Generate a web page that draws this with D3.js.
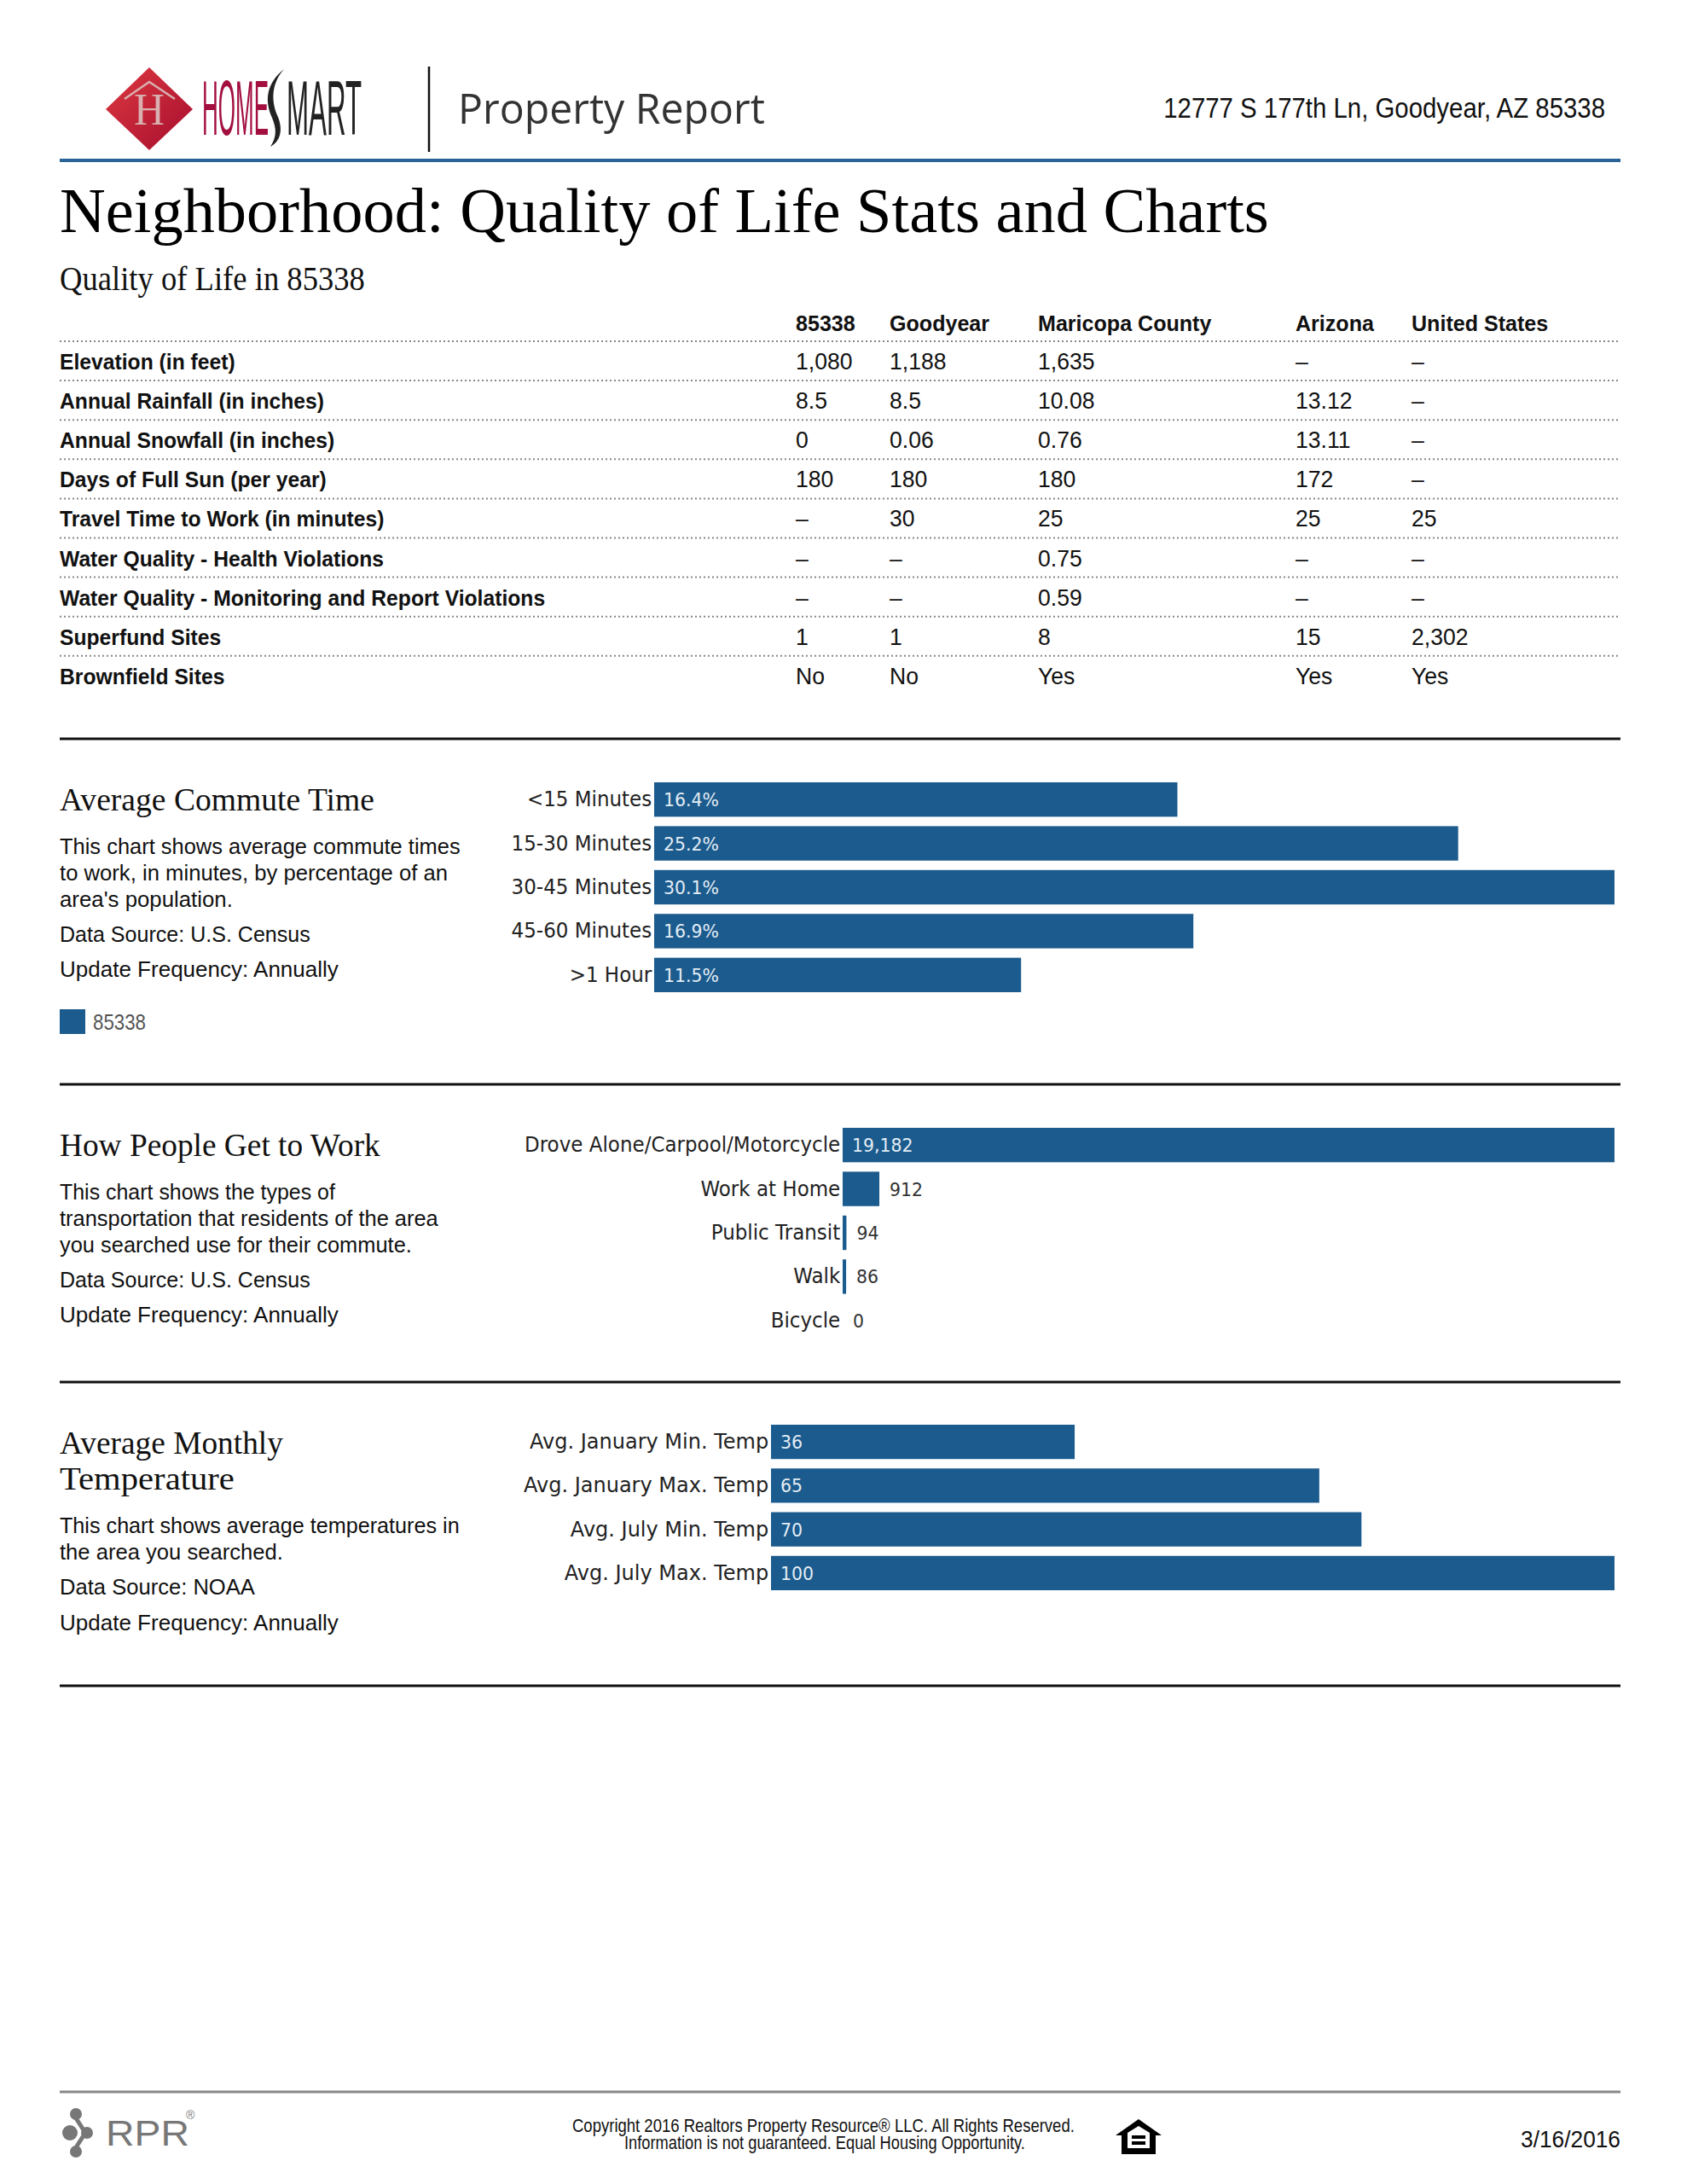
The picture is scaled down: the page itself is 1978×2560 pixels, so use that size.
<!DOCTYPE html>
<html><head><meta charset="utf-8">
<script src="https://cdnjs.cloudflare.com/ajax/libs/d3/7.8.5/d3.min.js"></script>
<style>html,body{margin:0;padding:0;background:#fff}svg{display:block}</style></head>
<body><svg id="c" width="1978" height="2560"></svg>
<script>
const tableColumns = ["85338","Goodyear","Maricopa County","Arizona","United States"];
const tableRowLabels = ["Elevation (in feet)","Annual Rainfall (in inches)","Annual Snowfall (in inches)","Days of Full Sun (per year)","Travel Time to Work (in minutes)","Water Quality - Health Violations","Water Quality - Monitoring and Report Violations","Superfund Sites","Brownfield Sites"];
const col85338 = ["1,080","8.5","0","180","–","–","–","1","No"];
const colGoodyear = ["1,188","8.5","0.06","180","30","–","–","1","No"];
const colMaricopa = ["1,635","10.08","0.76","180","25","0.75","0.59","8","Yes"];
const colArizona = ["–","13.12","13.11","172","25","–","–","15","Yes"];
const colUS = ["–","–","–","–","25","–","–","2,302","Yes"];

const commuteCats = ["<15 Minutes","15-30 Minutes","30-45 Minutes","45-60 Minutes",">1 Hour"];
const commuteVals = [16.4,25.2,30.1,16.9,11.5];
const workCats = ["Drove Alone/Carpool/Motorcycle","Work at Home","Public Transit","Walk","Bicycle"];
const workVals = [19182,912,94,86,0];
const tempCats = ["Avg. January Min. Temp","Avg. January Max. Temp","Avg. July Min. Temp","Avg. July Max. Temp"];
const tempVals = [36,65,70,100];

const BLUE = "#1b5b8e";
const SANS = "'Liberation Sans',Arial,sans-serif", SERIF = "'Liberation Serif',serif", TAHOMA = "'DejaVu Sans',sans-serif";
const svg = d3.select("#c");

function txt(x,y,s,o={}){
  const t = svg.append("text").text(s)
    .attr("font-family",o.family||SANS).attr("font-size",o.size||26)
    .attr("font-weight",o.weight||"normal").attr("fill",o.fill||"#111")
    .attr("text-anchor",o.anchor||"start");
  const w = t.node().getComputedTextLength();
  const k = o.width ? o.width/w : (o.sx||1);
  t.attr("transform",`translate(${x},${y}) scale(${k},1)`);
  return t;
}
function line(x1,x2,y,stroke,sw,dash){
  const l = svg.append("line").attr("x1",x1).attr("x2",x2).attr("y1",y).attr("y2",y).attr("stroke",stroke).attr("stroke-width",sw);
  if(dash) l.attr("stroke-dasharray",dash);
}

/* ---- header ---- */
const defs = svg.append("defs");
const g = defs.append("linearGradient").attr("id","red").attr("x1","0").attr("y1","0").attr("x2","1").attr("y2","1");
g.append("stop").attr("offset","0").attr("stop-color","#dd3a40");
g.append("stop").attr("offset","1").attr("stop-color","#a60c2e");
svg.append("path").attr("d","M175,79L226,128L175,176L124,128Z").attr("fill","url(#red)");
svg.append("path").attr("d","M146,116L175,96L205,116").attr("fill","none").attr("stroke","#d9b0b0").attr("stroke-width",2.5);
txt(175,146,"H",{family:SERIF,size:52,fill:"#d9b0b0",anchor:"middle",width:36});
txt(237,158,"HOME",{size:90,fill:"#a30f3f",width:78});
svg.append("path").attr("d","M333,81C318,98 318,118 325,135C332,150 330,165 317,172C325,160 324,150 319,138C310,118 312,98 333,81Z").attr("fill","#222");
txt(336,158,"MART",{size:90,fill:"#222",width:88});
svg.append("line").attr("x1",503).attr("x2",503).attr("y1",78).attr("y2",178).attr("stroke","#111").attr("stroke-width",2.5);
txt(537,145,"Property Report",{family:"'Open Sans',sans-serif",size:50,fill:"#333",width:360});
txt(1882,138,"12777 S 177th Ln, Goodyear, AZ 85338",{size:33,anchor:"end",width:518});
line(70,1900,188,"#2a6496",4);
txt(70,272,"Neighborhood: Quality of Life Stats and Charts",{family:SERIF,size:74,fill:"#000",width:1418});
txt(70,340,"Quality of Life in 85338",{family:SERIF,size:39,fill:"#111",width:358});

/* ---- table ---- */
const colX = d3.scaleOrdinal().domain(tableColumns).range([933,1043,1217,1519,1655]);
const rowY = d3.scaleBand().domain(tableRowLabels).range([400,400+46.1*9]);
tableColumns.forEach(c=>txt(colX(c),388,c,{size:26,weight:"bold",sx:.965}));
line(70,1900,400,"#888",2,"2,3");
[col85338,colGoodyear,colMaricopa,colArizona,colUS].forEach((vals,i)=>{
  vals.forEach((v,j)=>txt(colX(tableColumns[i]),rowY(tableRowLabels[j])+33,v,{size:28,sx:.95}));
});
tableRowLabels.forEach((r,j)=>{
  txt(70,rowY(r)+33,r,{size:26,weight:"bold",sx:.95});
  if(j<8) line(70,1900,rowY(r)+46.1,"#888",2,"2,3");
});

/* ---- sections ---- */
[866,1271,1620,1976].forEach(y=>line(70,1900,y,"#111",3));
function section(top,head,headW,lines){
  head.forEach((h,i)=>txt(70,top+84+i*42,h,{family:SERIF,size:37,fill:"#111",width:headW[i]}));
  lines.forEach(l=>txt(70,top+l[0],l[1],{size:26,width:l[2]}));
}
section(866,["Average Commute Time"],[369],[
  [135,"This chart shows average commute times",470],
  [166,"to work, in minutes, by percentage of an",455],
  [197,"area's population.",203],
  [238,"Data Source: U.S. Census",294],
  [279,"Update Frequency: Annually",327]]);
section(1271,["How People Get to Work"],[376],[
  [135,"This chart shows the types of",323],
  [166,"transportation that residents of the area",444],
  [197,"you searched use for their commute.",413],
  [238,"Data Source: U.S. Census",294],
  [279,"Update Frequency: Annually",327]]);
section(1620,["Average Monthly","Temperature"],[262,205],[
  [177,"This chart shows average temperatures in",469],
  [208,"the area you searched.",262],
  [249,"Data Source: NOAA",229],
  [291,"Update Frequency: Annually",327]]);
svg.append("rect").attr("x",70).attr("y",1183).attr("width",30).attr("height",29).attr("fill",BLUE);
txt(109,1207,"85338",{size:26,fill:"#555",width:62});

/* ---- bar charts ---- */
function bars(cats,vals,x0,y0,y1,fmt,labelK){
  const x = d3.scaleLinear().domain([0,d3.max(vals)]).range([x0,1893]);
  const y = d3.scaleBand().domain(cats).range([y0,y1]).paddingInner(.215).paddingOuter(0);
  const G = svg.append("g");
  G.selectAll("rect").data(vals).join("rect")
    .attr("x",x0).attr("y",(d,i)=>y(cats[i])).attr("width",d=>x(d)-x0).attr("height",y.bandwidth()).attr("fill",BLUE);
  const ax = svg.append("g").attr("transform",`translate(${x0},0)`).call(d3.axisLeft(y).tickSize(0).tickPadding(3));
  ax.select(".domain").remove();
  ax.selectAll("text").attr("font-family",TAHOMA).attr("font-size",25).attr("fill","#222")
    .attr("transform",`scale(${labelK},1)`);
  vals.forEach((v,i)=>{
    const s = fmt(v), inside = x(v)-x0 > 100;
    txt(inside ? x0+11 : x(v)+12, y(cats[i])+y.bandwidth()/2+8, s,
      {family:TAHOMA,size:22,fill:inside?"#e4edf4":"#333",sx:.93});
  });
}
bars(commuteCats,commuteVals,767,917,1163,d=>d.toFixed(1)+"%",.92);
bars(workCats,workVals,988,1322,1568,d3.format(","),.92);
bars(tempCats,tempVals,904,1670,1864,d=>String(d),.96);

/* ---- footer ---- */
line(70,1900,2452,"#888",3);
svg.append("g").attr("fill","#777").selectAll("circle").data([[89,2478,7],[82,2500,9],[102,2500,7],[89,2522,7]])
  .join("circle").attr("cx",d=>d[0]).attr("cy",d=>d[1]).attr("r",d=>d[2]);
svg.append("path").attr("d","M86,2478L100,2500L86,2522").attr("fill","none").attr("stroke","#777").attr("stroke-width",5);
txt(124,2515,"RPR",{size:42,fill:"#777",width:98});
txt(218,2484,"®",{size:14,fill:"#777"});
txt(671,2499,"Copyright 2016 Realtors Property Resource® LLC. All Rights Reserved.",{size:22,width:589});
txt(732,2519,"Information is not guaranteed. Equal Housing Opportunity.",{size:22,width:470});
svg.append("path").attr("d","M1335,2484L1362,2503L1355,2503L1355,2525L1315,2525L1315,2503L1308,2503Z M1322,2500L1322,2518L1348,2518L1348,2500L1335,2492Z").attr("fill","#000").attr("fill-rule","evenodd");
svg.append("rect").attr("x",1327).attr("y",2503).attr("width",16).attr("height",4).attr("fill","#000");
svg.append("rect").attr("x",1327).attr("y",2510).attr("width",16).attr("height",4).attr("fill","#000");
txt(1900,2517,"3/16/2016",{size:27,anchor:"end",width:117});
</script></body></html>
